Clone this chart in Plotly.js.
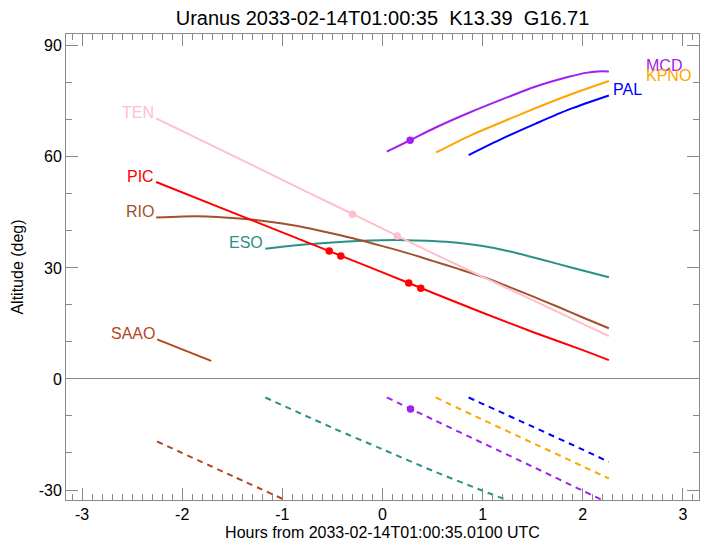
<!DOCTYPE html>
<html>
<head>
<meta charset="utf-8">
<script src="https://cdn.plot.ly/plotly-3.0.1.min.js"></script>
<style>html,body{margin:0;padding:0;background:#fff;}#chart{width:708px;height:546px;}</style>
</head>
<body>
<div id="chart"></div>
<script>
// ---- data (hours from reference time, altitude in degrees) ----
const titleText = "Uranus 2033-02-14T01:00:35\u00a0\u00a0K13.39\u00a0\u00a0G16.71";
const xTitle = "Hours from 2033-02-14T01:00:35.0100 UTC";
const yTitle = "Altitude (deg)";

const xTickVals = [-3, -2, -1, 0, 1, 2, 3];
const xTickText = ["-3", "-2", "-1", "0", "1", "2", "3"];
const yTickVals = [-30, 0, 30, 60, 90];
const yTickText = ["-30", "0", "30", "60", "90"];

// solid curves (object above horizon)
const hoursTEN = [-2.26, -1.5, -1.0, -0.5, 0.0, 0.5, 1.0, 1.5, 2.0, 2.26];
const altTEN   = [70.4, 60.4, 53.8, 47.2, 40.6, 34.0, 27.6, 21.3, 14.9, 11.6];

const hoursPIC = [-2.26, -1.5, -1.0, -0.5, 0.0, 0.5, 1.0, 1.5, 2.0, 2.26];
const altPIC   = [53.2, 45.0, 39.6, 34.2, 28.8, 23.3, 17.9, 12.7, 7.8, 5.1];

const hoursRIO = [-2.26, -2.0, -1.75, -1.5, -1.25, -1.0, -0.75, -0.5, -0.25, 0.0, 0.25, 0.5, 0.75, 1.0, 1.25, 1.5, 1.75, 2.0, 2.26];
const altRIO   = [43.6, 43.9, 43.9, 43.5, 42.9, 42.0, 40.8, 39.3, 37.7, 35.9, 34.0, 31.9, 29.8, 27.6, 25.0, 22.3, 19.5, 16.6, 13.7];

const hoursESO = [-1.17, -1.0, -0.75, -0.5, -0.25, 0.0, 0.25, 0.5, 0.75, 1.0, 1.25, 1.5, 1.75, 2.0, 2.26];
const altESO   = [35.2, 35.7, 36.4, 36.9, 37.3, 37.5, 37.5, 37.3, 36.8, 35.9, 34.6, 32.9, 31.1, 29.3, 27.5];

const hoursSAAO = [-2.25, -2.0, -1.71];
const altSAAO   = [10.7, 8.0, 4.9];

const hoursMCD = [0.043, 0.276, 0.536, 0.87, 1.2, 1.53, 1.87, 2.03, 2.15, 2.26];
const altMCD   = [61.4, 64.5, 68.0, 72.0, 75.6, 79.0, 81.7, 82.7, 83.1, 83.1];

const hoursKPNO = [0.536, 0.87, 1.2, 1.53, 1.87, 2.26];
const altKPNO   = [61.2, 65.7, 69.5, 73.2, 76.8, 80.5];

const hoursPAL = [0.86, 1.2, 1.53, 1.87, 2.26];
const altPAL   = [60.5, 65.0, 69.0, 72.9, 76.6];

// dashed curves (below horizon)
const hoursESOd = [-1.17, -0.5, 0.0, 0.5, 1.0, 1.32];
const altESOd   = [-5.0, -13.2, -19.0, -24.8, -30.2, -33.5];

const hoursMCDd = [0.043, 0.5, 1.0, 1.5, 2.0, 2.24];
const altMCDd   = [-5.0, -10.9, -17.3, -23.7, -30.2, -33.3];

const hoursKPNOd = [0.53, 1.0, 1.5, 2.0, 2.26];
const altKPNOd   = [-5.0, -11.0, -17.3, -23.6, -26.9];

const hoursPALd = [0.86, 1.5, 2.0, 2.26];
const altPALd   = [-5.0, -12.9, -19.1, -22.4];

const hoursSAAOd = [-2.25, -1.5, -0.9];
const altSAAOd   = [-16.9, -26.2, -33.6];

// marked times
const markHoursTEN = [-0.30, 0.147];
const markAltTEN   = [44.5, 38.6];
const markHoursPIC = [-0.532, -0.416, 0.262, 0.382];
const markAltPIC   = [34.6, 33.2, 25.9, 24.5];
const markHoursMCD = [0.276];
const markAltMCD   = [64.5];
const markHoursMCDd = [0.28];
const markAltMCDd   = [-8.1];

// ---- styling ----
const C = {
  TEN: "#ffc0cb", PIC: "#ff0000", RIO: "#a0522d", ESO: "#2a9187",
  SAAO: "#b0481c", MCD: "#a020f0", KPNO: "#ffa500", PAL: "#0000ff"
};
const LW = 2;

function solid(x, y, c) {
  return {x, y, type: "scatter", mode: "lines", line: {color: c, width: LW, shape: "spline", smoothing: 0.8}, hoverinfo: "skip", showlegend: false};
}
function dashed(x, y, c) {
  return {x, y, type: "scatter", mode: "lines", line: {color: c, width: LW, dash: "6px,5px", shape: "spline", smoothing: 0.8}, hoverinfo: "skip", showlegend: false};
}
function marks(x, y, c) {
  return {x, y, type: "scatter", mode: "markers", marker: {color: c, size: 7.5}, hoverinfo: "skip", showlegend: false, cliponaxis: true};
}

const traces = [
  dashed(hoursSAAOd, altSAAOd, C.SAAO),
  dashed(hoursESOd, altESOd, C.ESO),
  dashed(hoursMCDd, altMCDd, C.MCD),
  dashed(hoursKPNOd, altKPNOd, C.KPNO),
  dashed(hoursPALd, altPALd, C.PAL),
  solid(hoursSAAO, altSAAO, C.SAAO),
  solid(hoursESO, altESO, C.ESO),
  solid(hoursRIO, altRIO, C.RIO),
  solid(hoursTEN, altTEN, C.TEN),
  solid(hoursPIC, altPIC, C.PIC),
  solid(hoursMCD, altMCD, C.MCD),
  solid(hoursKPNO, altKPNO, C.KPNO),
  solid(hoursPAL, altPAL, C.PAL),
  marks(markHoursTEN, markAltTEN, C.TEN),
  marks(markHoursPIC, markAltPIC, C.PIC),
  marks(markHoursMCD, markAltMCD, C.MCD),
  marks(markHoursMCDd, markAltMCDd, C.MCD)
];

const FONT = "Liberation Sans, Arial, sans-serif";

function startLabel(name, xs, ys) {
  return {x: xs[0], y: ys[0], xref: "x", yref: "y", text: name, showarrow: false,
    xanchor: "right", yanchor: "middle", yshift: 6, xshift: 0,
    font: {family: FONT, size: 16, color: C[name]}};
}
function endLabel(name, xs, ys, dx) {
  const n = xs.length - 1;
  return {x: xs[n], y: ys[n], xref: "x", yref: "y", text: name, showarrow: false,
    xanchor: "left", yanchor: "middle", yshift: 6, xshift: dx,
    font: {family: FONT, size: 16, color: C[name]}};
}

const annotations = [
  startLabel("TEN", hoursTEN, altTEN),
  startLabel("PIC", hoursPIC, altPIC),
  startLabel("RIO", hoursRIO, altRIO),
  startLabel("ESO", hoursESO, altESO),
  startLabel("SAAO", hoursSAAO, altSAAO),
  endLabel("MCD", hoursMCD, altMCD, 35),
  endLabel("KPNO", hoursKPNO, altKPNO, 35),
  endLabel("PAL", hoursPAL, altPAL, 2)
];

const axisGray = "#8a8a8a";
const layout = {
  width: 708, height: 546,
  margin: {l: 66, r: 9, t: 34, b: 46, pad: 0},
  paper_bgcolor: "#ffffff", plot_bgcolor: "#ffffff",
  font: {family: FONT, size: 16, color: "#000"},
  title: {text: titleText, font: {family: FONT, size: 20, color: "#000"},
          xref: "paper", x: 0.5, xanchor: "center", yref: "container", y: 1 - 18/546, yanchor: "middle"},
  showlegend: false,
  xaxis: {
    range: [-3.16, 3.16], tickmode: "array", tickvals: xTickVals, ticktext: xTickText,
    ticks: "inside", ticklen: 12, tickwidth: 1, tickcolor: axisGray,
    showline: true, linecolor: axisGray, linewidth: 1, mirror: "allticks",
    showgrid: false, zeroline: false,
    minor: {dtick: 0.1, tick0: 0, ticks: "inside", ticklen: 6, tickwidth: 1, tickcolor: axisGray, showgrid: false},
    tickfont: {family: FONT, size: 16, color: "#000"},
    title: {text: xTitle, font: {family: FONT, size: 16, color: "#000"}, standoff: 4}
  },
  yaxis: {
    range: [-32.7, 93.2], tickmode: "array", tickvals: yTickVals, ticktext: yTickText,
    ticks: "inside", ticklen: 12, tickwidth: 1, tickcolor: axisGray,
    showline: true, linecolor: axisGray, linewidth: 1, mirror: "allticks",
    showgrid: false, zeroline: true, zerolinecolor: axisGray, zerolinewidth: 1,
    minor: {dtick: 10, tick0: 0, ticks: "inside", ticklen: 6, tickwidth: 1, tickcolor: axisGray, showgrid: false},
    tickfont: {family: FONT, size: 16, color: "#000"},
    title: {text: yTitle, font: {family: FONT, size: 16, color: "#000"}, standoff: 11}
  },
  annotations: annotations
};

Plotly.newPlot("chart", traces, layout, {staticPlot: true, displayModeBar: false});
</script>
</body>
</html>
